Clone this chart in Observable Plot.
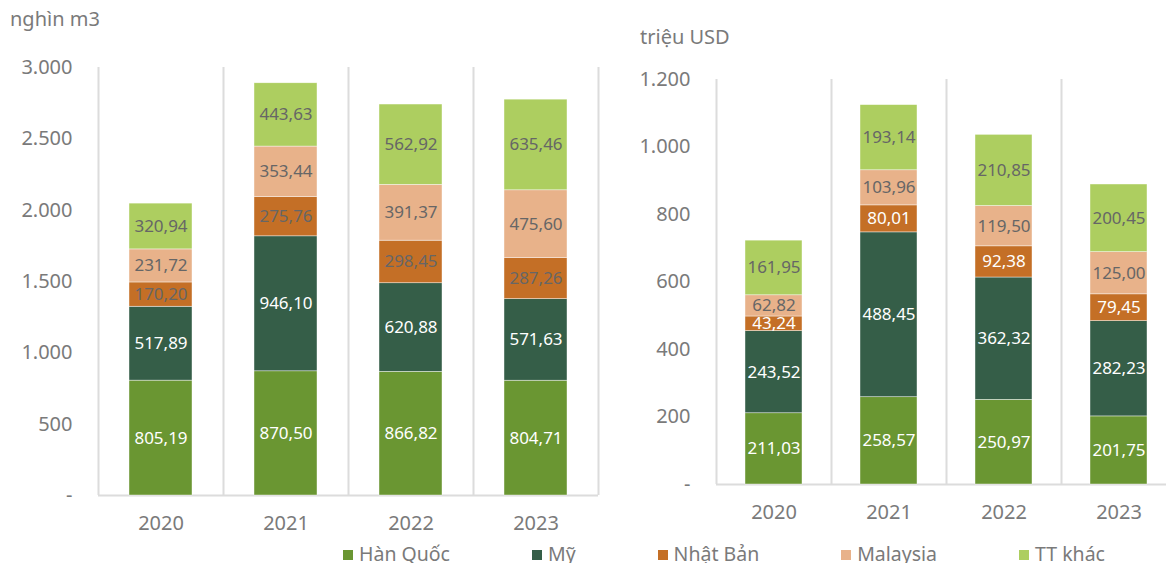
<!DOCTYPE html>
<html><head><meta charset="utf-8">
<script src="https://cdn.jsdelivr.net/npm/d3@7"></script>
<script src="https://cdn.jsdelivr.net/npm/@observablehq/plot@0.6"></script>
<style>
body{margin:0;background:#fff;}
#wrap{position:relative;width:1166px;height:563px;overflow:hidden;font-family:"Noto Sans",sans-serif;color:#7a7a7a;}
.unit{position:absolute;font-size:20px;line-height:20px;white-space:nowrap;}
#left{position:absolute;left:0;top:0;width:600px;height:540px;}
#right{position:absolute;left:600px;top:0;width:576px;height:540px;}
#left svg, #right svg{max-width:none !important;}
#legend{position:absolute;left:343px;top:542px;display:flex;font-size:19.5px;line-height:24px;white-space:nowrap;}
.item{display:flex;align-items:center;margin-right:82px;}
.sw{width:10px;height:10px;margin-right:6px;margin-top:2px;}
</style></head><body>
<div id="wrap">
  <div class="unit" style="left:10px;top:9px;">nghìn m3</div>
  <div class="unit" style="left:640px;top:27px;">triệu USD</div>
  <div id="left"></div>
  <div id="right"></div>
  <div id="legend"></div>
</div>
<script>
const years = ["2020", "2021", "2022", "2023"];
const series = ["Hàn Quốc", "Mỹ", "Nhật Bản", "Malaysia", "TT khác"];
const colors = ["#6a9632", "#355e48", "#c46f26", "#e8b28a", "#adce60"];

// Volume (nghìn m3)
const volHanQuoc = [805.19, 870.50, 866.82, 804.71];
const volMy      = [517.89, 946.10, 620.88, 571.63];
const volNhatBan = [170.20, 275.76, 298.45, 287.26];
const volMalaysia= [231.72, 353.44, 391.37, 475.60];
const volTTKhac  = [320.94, 443.63, 562.92, 635.46];

// Value (triệu USD)
const valHanQuoc = [211.03, 258.57, 250.97, 201.75];
const valMy      = [243.52, 488.45, 362.32, 282.23];
const valNhatBan = [43.24, 80.01, 92.38, 79.45];
const valMalaysia= [62.82, 103.96, 119.50, 125.00];
const valTTKhac  = [161.95, 193.14, 210.85, 200.45];

const volTicks = [0, 500, 1000, 1500, 2000, 2500, 3000];
const valTicks = [0, 200, 400, 600, 800, 1000, 1200];

function toRows(arrs) {
  const rows = [];
  years.forEach((y, i) => series.forEach((s, j) => rows.push({year: y, series: s, value: arrs[j][i]})));
  return rows;
}
const volRows = toRows([volHanQuoc, volMy, volNhatBan, volMalaysia, volTTKhac]);
const valRows = toRows([valHanQuoc, valMy, valNhatBan, valMalaysia, valTTKhac]);

const loc = d3.formatLocale({decimal: ",", thousands: ".", grouping: [3], currency: ["", ""]});
const fmtLabel = loc.format(".2f");
const fmtTick = d => d === 0 ? "-" : loc.format(",")(d);

const grid = "#dcdcdc";
const grayText = "#666666";

function panel({rows, ticks, width, height, marginTop, marginBottom, marginLeft, marginRight, bw, inset, whiteSeries}) {
  const top = ticks[ticks.length - 1];
  const isWhite = d => whiteSeries.includes(d.series);
  return Plot.plot({
    width, height, marginTop, marginBottom, marginLeft, marginRight,
    style: {fontFamily: "Noto Sans", fontSize: "20px", color: "#7a7a7a", background: "transparent", overflow: "visible", maxWidth: "none"},
    x: {domain: years, padding: 0, tickSize: 0, tickPadding: 20, label: null},
    y: {domain: [0, top], ticks: ticks.length - 1, tickFormat: fmtTick, tickSize: 0, tickPadding: 26, label: null},
    color: {domain: series, range: colors},
    marks: [
      Plot.ruleX(years, {x: d => d, dx: -bw / 2, y1: 0, y2: top, stroke: grid, strokeWidth: 2}),
      Plot.ruleX(years.slice(-1), {x: d => d, dx: bw / 2, y1: 0, y2: top, stroke: grid, strokeWidth: 2}),
      Plot.ruleY([0], {stroke: grid, strokeWidth: 2}),
      Plot.barY(rows, Plot.stackY({x: "year", y: "value", z: "series", order: series, fill: "series",
        insetLeft: inset, insetRight: inset, stroke: "white", strokeWidth: 0.6, strokeOpacity: 0.7})),
      Plot.text(rows, Plot.stackY({x: "year", y: "value", z: "series", order: series,
        text: d => isWhite(d) ? fmtLabel(d.value) : "", fill: "white", fontSize: 17})),
      Plot.text(rows, Plot.stackY({x: "year", y: "value", z: "series", order: series,
        text: d => isWhite(d) ? "" : fmtLabel(d.value), fill: grayText, fontSize: 17}))
    ]
  });
}

document.getElementById("left").appendChild(panel({
  rows: volRows, ticks: volTicks, width: 600, height: 540,
  marginTop: 67, marginBottom: 45, marginLeft: 98, marginRight: 2,
  bw: 125, inset: 31, whiteSeries: ["Hàn Quốc", "Mỹ"]
}));
document.getElementById("right").appendChild(panel({
  rows: valRows, ticks: valTicks, width: 576, height: 540,
  marginTop: 79, marginBottom: 56, marginLeft: 116, marginRight: 0,
  bw: 115, inset: 29, whiteSeries: ["Hàn Quốc", "Mỹ", "Nhật Bản"]
}));

const legend = document.getElementById("legend");
series.forEach((s, i) => {
  const item = document.createElement("div");
  item.className = "item";
  const sw = document.createElement("span");
  sw.className = "sw";
  sw.style.background = colors[i];
  const t = document.createElement("span");
  t.textContent = s;
  item.appendChild(sw); item.appendChild(t);
  legend.appendChild(item);
});
</script>
</body></html>
